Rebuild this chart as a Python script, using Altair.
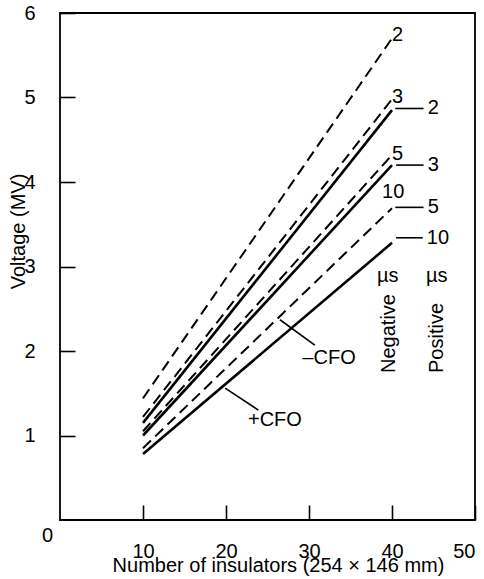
import altair as alt
import pandas as pd

FONT = "Liberation Sans"

# ---- data ----
insulators = [10, 40]
neg_2us = [1.44, 5.70]
neg_3us = [1.22, 4.98]
neg_5us = [1.05, 4.32]
neg_10us_pos_5us = [0.85, 3.69]
pos_2us = [1.15, 4.85]
pos_3us = [1.00, 4.20]
pos_10us = [0.78, 3.28]

dashed_series = {"-2 µs": neg_2us, "-3 µs": neg_3us, "-5 µs": neg_5us, "-10 µs / +5 µs": neg_10us_pos_5us}
solid_series = {"+2 µs": pos_2us, "+3 µs": pos_3us, "+10 µs": pos_10us}

x_labels = [10, 20, 30, 40, 50]
y_labels = [1, 2, 3, 4, 5, 6]

# end labels, negative (dashed) set
neg_text = ["2", "3", "5", "10"]
neg_x = [40.0, 40.0, 40.0, 38.8]
neg_y = [5.74, 5.01, 4.33, 3.88]
# end labels, positive set with leaders
pos_text = ["2", "3", "5", "10"]
pos_x = [44.3, 44.3, 44.3, 44.2]
pos_y = [4.87, 4.20, 3.70, 3.34]
lead_x1 = [40.4, 40.5, 40.4, 40.5]
lead_x2 = [43.8, 43.8, 43.8, 43.7]

# column headers
head_text = ["µs", "µs"]
head_x = [39.5, 45.4]
head_y = [2.89, 2.89]
vert_text = ["Negative", "Positive"]
vert_x = [39.6, 45.4]
vert_y = [1.74, 1.74]

# CFO annotations
cfo_text = ["–CFO", "+CFO"]
cfo_x = [29.2, 22.65]
cfo_y = [1.92, 1.18]
cfo_lx1 = [26.5, 19.9]
cfo_ly1 = [2.37, 1.56]
cfo_lx2 = [30.7, 23.9]
cfo_ly2 = [2.07, 1.30]

# ---- tables ----
def to_long(series):
    rows = []
    for name, vals in series.items():
        for xv, yv in zip(insulators, vals):
            rows.append({"series": name, "n": xv, "v": yv})
    return pd.DataFrame(rows)

dashed_df = to_long(dashed_series)
solid_df = to_long(solid_series)

seg_rows = []
for a, b, yv in zip(lead_x1, lead_x2, pos_y):
    seg_rows.append({"sx1": a, "sy1": yv, "sx2": b, "sy2": yv})
for a, b, c, d in zip(cfo_lx1, cfo_ly1, cfo_lx2, cfo_ly2):
    seg_rows.append({"sx1": a, "sy1": b, "sx2": c, "sy2": d})
seg_df = pd.DataFrame(seg_rows)

xs = alt.Scale(domain=[0, 50], nice=False, zero=False)
ys = alt.Scale(domain=[0, 6], nice=False, zero=False)

# axes shifted 15 px into the plot so their (outward) ticks read as inward ticks;
# the frame itself is drawn by the view stroke
x_axis = alt.Axis(
    values=x_labels, format="d", offset=-15, domain=False,
    ticks=True, tickSize=15, tickColor="black", tickWidth=1.6, grid=False,
    labelPadding=21, labelFontSize=20, labelFont=FONT, labelColor="black",
    title="Number of insulators (254 × 146 mm)", titleFont=FONT, titleFontSize=20,
    titleFontWeight="normal", titleColor="black",
    titleX=218, titleY=60, titleAlign="center", titleBaseline="middle",
)
y_axis = alt.Axis(
    values=y_labels, format="d", offset=-15, domain=False,
    ticks=True, tickSize=15, tickColor="black", tickWidth=1.6, grid=False,
    labelPadding=25, labelFontSize=20, labelFont=FONT, labelColor="black",
    title="Voltage (MV)", titleFont=FONT, titleFontSize=20,
    titleFontWeight="normal", titleColor="black",
    titleX=-57, titleY=218, titleAngle=270, titleAlign="center", titleBaseline="middle",
)

dashed = alt.Chart(dashed_df).mark_line(color="black", strokeWidth=2, strokeDash=[11, 6]).encode(
    x=alt.X("n:Q", scale=xs, axis=x_axis),
    y=alt.Y("v:Q", scale=ys, axis=y_axis),
    detail="series:N",
)
solid = alt.Chart(solid_df).mark_line(color="black", strokeWidth=2.6).encode(
    x=alt.X("n:Q", scale=xs),
    y=alt.Y("v:Q", scale=ys),
    detail="series:N",
)

segments = alt.Chart(seg_df).mark_rule(color="black", strokeWidth=1.6).encode(
    x=alt.X("sx1:Q", scale=xs), y=alt.Y("sy1:Q", scale=ys), x2="sx2:Q", y2="sy2:Q"
)

origin = alt.Chart(pd.DataFrame({"x": [-1.5], "y": [-0.19], "t": ["0"]})).mark_text(
    font=FONT, fontSize=20, color="black", align="center", baseline="middle"
).encode(x=alt.X("x:Q", scale=xs), y=alt.Y("y:Q", scale=ys), text="t:N")

def text_layer(tx, xv, yv, **kw):
    df = pd.DataFrame({"x": xv, "y": yv, "t": tx})
    return alt.Chart(df).mark_text(font=FONT, fontSize=20, color="black", **kw).encode(
        x=alt.X("x:Q", scale=xs), y=alt.Y("y:Q", scale=ys), text="t:N"
    )

neg_lab = text_layer(neg_text, neg_x, neg_y, align="left", baseline="middle")
pos_lab = text_layer(pos_text, pos_x, pos_y, align="left", baseline="middle")
head_lab = text_layer(head_text, head_x, head_y, align="center", baseline="middle")
vert_lab = text_layer(vert_text, vert_x, vert_y, align="left", baseline="middle", angle=270)
cfo_lab = text_layer(cfo_text, cfo_x, cfo_y, align="left", baseline="middle")

chart = alt.layer(
    dashed, solid, segments, origin, neg_lab, pos_lab, head_lab, vert_lab, cfo_lab
).properties(
    width=415, height=507,
    autosize=alt.AutoSizeParams(type="none"),
    padding={"left": 60, "top": 13, "right": 9, "bottom": 59},
).configure_view(stroke="black", strokeWidth=1.8)

chart.save("out.html", embed_options={"renderer": "svg", "actions": False})
